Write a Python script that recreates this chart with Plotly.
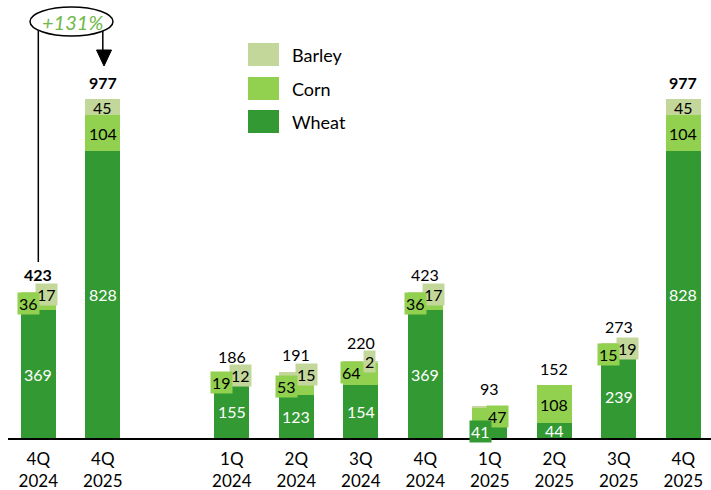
import plotly.graph_objects as go

# ---- data ----
categories = ["4Q 2024", "4Q 2025", "1Q 2024", "2Q 2024", "3Q 2024",
              "4Q 2024", "1Q 2025", "2Q 2025", "3Q 2025", "4Q 2025"]
wheat = [369, 828, 155, 123, 154, 369, 41, 44, 239, 828]
corn = [36, 104, 19, 53, 64, 36, 47, 108, 15, 104]
barley = [17, 45, 12, 15, 2, 17, 5, 0, 19, 45]
totals = [423, 977, 186, 191, 220, 423, 93, 152, 273, 977]
bold_totals = [True, True, False, False, False, False, False, False, False, True]
growth_label = "+131%"

# ---- style ----
C_WHEAT = "#339933"
C_CORN = "#92D050"
C_BARLEY = "#C4D79B"
FONT = "Lato"
LBL = 16

# slot positions (gap after the first two bars)
pos = [i if i < 2 else i + 1 for i in range(len(categories))]
ticktext = [c.replace(" ", "<br>") for c in categories]

W, H = 711, 490
ML, MR, MT, MB = 8, 0, 0, 52
PLOT_W, PLOT_H = W - ML - MR, H - MT - MB
X_MIN, X_MAX = -0.47, 10.43
Y_MAX = 1264.0


def fx(px):
    return X_MIN + (px - ML) / PLOT_W * (X_MAX - X_MIN)


def fy(py):
    return (MT + PLOT_H - py) / PLOT_H * Y_MAX


fig = go.Figure()
for name, vals, col in [("Wheat", wheat, C_WHEAT), ("Corn", corn, C_CORN), ("Barley", barley, C_BARLEY)]:
    fig.add_trace(go.Bar(x=pos, y=vals, name=name, marker=dict(color=col, line=dict(width=0)),
                         width=0.54, showlegend=False, hoverinfo="y+name"))

ann = []
# side labels: (xshift px, px below bar top)
side = {
    0: {"corn": (-10, 12), "barley": (8, 3)},
    2: {"corn": (-10, 9), "barley": (9, 2)},
    3: {"corn": (-10, 15), "barley": (10, 3)},
    4: {"corn": (-9, 11), "barley": (9, 0)},
    5: {"corn": (-10, 12), "barley": (8, 3)},
    6: {"wheat": (-9, 26), "corn": (8, 11)},
    8: {"corn": (-10, 11), "barley": (9, 5)},
}
total_shift = {4: 19}


def side_label(p, t, spec, val, col, fcol):
    xs, dy = spec
    return dict(x=p, y=t, xshift=xs, yshift=-dy, text=str(val), bgcolor=col,
                font=dict(color=fcol, size=LBL, family=FONT), borderpad=1)


for i, p in enumerate(pos):
    w, c, b, t = wheat[i], corn[i], barley[i], totals[i]
    s = side.get(i, {})
    # barley first so that corn/wheat boxes sit on top
    if "barley" in s:
        ann.append(side_label(p, t, s["barley"], b, C_BARLEY, "black"))
    elif b > 0 and i not in side:
        ann.append(dict(x=p, y=w + c + b / 2, text=str(b), font=dict(color="black", size=LBL, family=FONT)))
    if "corn" in s:
        ann.append(side_label(p, t, s["corn"], c, C_CORN, "black"))
    elif c > 0:
        ann.append(dict(x=p, y=w + c / 2, text=str(c), font=dict(color="black", size=LBL, family=FONT)))
    if "wheat" in s:
        ann.append(side_label(p, t, s["wheat"], w, C_WHEAT, "white"))
    else:
        ann.append(dict(x=p, y=w / 2, text=str(w), font=dict(color="white", size=LBL, family=FONT)))
    txt = f"<b>{t}</b>" if bold_totals[i] else str(t)
    ann.append(dict(x=p, y=t, yshift=total_shift.get(i, 17), text=txt,
                    font=dict(color="black", size=LBL, family=FONT)))

for a in ann:
    a.setdefault("showarrow", False)
    a.setdefault("xanchor", "center")
    a.setdefault("yanchor", "middle")
    a["xref"] = "x"
    a["yref"] = "y"

# legend (manual)
shapes = []
legend_items = [("Barley", C_BARLEY, 43), ("Corn", C_CORN, 77), ("Wheat", C_WHEAT, 110)]
for name, col, top in legend_items:
    shapes.append(dict(type="rect", xref="x", yref="y", x0=fx(248), x1=fx(279), y0=fy(top), y1=fy(top + 23),
                       fillcolor=col, line=dict(width=0)))
    ann.append(dict(x=fx(290), y=fy(top + 11.5), xref="x", yref="y", text=name, showarrow=False,
                    xanchor="left", yanchor="middle", font=dict(color="black", size=18, family=FONT)))

# growth callout
shapes.append(dict(type="line", xref="x", yref="y", x0=pos[0], x1=pos[0], y0=fy(262), y1=fy(30),
                   line=dict(color="black", width=1.5)))
shapes.append(dict(type="line", xref="x", yref="y", x0=pos[1], x1=pos[1], y0=fy(31), y1=fy(52),
                   line=dict(color="black", width=1.5)))
shapes.append(dict(type="path", xref="x", yref="y",
                   path=f"M {fx(96.5)} {fy(50)} L {fx(111.5)} {fy(50)} L {fx(104)} {fy(66)} Z",
                   fillcolor="black", line=dict(color="black", width=1)))
shapes.append(dict(type="circle", xref="x", yref="y", x0=fx(30), x1=fx(113), y0=fy(36), y1=fy(7),
                   fillcolor="white", line=dict(color="black", width=1.5)))
ann.append(dict(x=fx(72), y=fy(21.5), xref="x", yref="y", text=f"<i>{growth_label}</i>", showarrow=False,
                xanchor="center", yanchor="middle", font=dict(color="#70B84A", size=20, family=FONT)))

fig.update_layout(
    width=W, height=H,
    margin=dict(l=ML, r=MR, t=MT, b=MB, autoexpand=False),
    paper_bgcolor="white", plot_bgcolor="white",
    barmode="stack", bargap=0,
    font=dict(family=FONT, color="black"),
    xaxis=dict(range=[X_MIN, X_MAX], tickvals=pos, ticktext=ticktext, showgrid=False, zeroline=False,
               showline=True, linecolor="black", linewidth=1.5, ticks="", ticklabelstandoff=5,
               automargin=False, tickfont=dict(size=17, family=FONT, color="black")),
    yaxis=dict(range=[0, Y_MAX], visible=False, showgrid=False, zeroline=False, automargin=False),
    annotations=ann,
    shapes=shapes,
)

fig.write_html("out.html", config={"displayModeBar": False},
               post_script="document.body.style.margin='0';document.body.style.overflow='hidden';")
